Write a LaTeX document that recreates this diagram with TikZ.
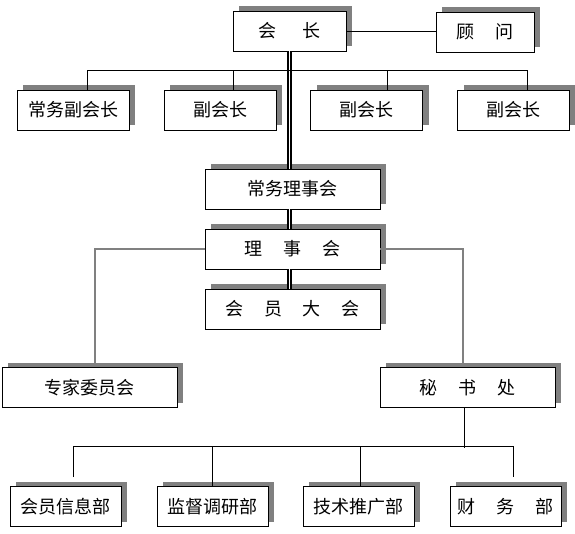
\documentclass[tikz,border=0pt]{standalone}
\usepackage{fontspec}
\newfontfamily\cjk{Noto Sans CJK SC}
\usetikzlibrary{shadows}

\newcommand{\gp}{\hspace{1.15em}}

\tikzstyle{box} = [draw,fill=white,line width=0.9pt,inner sep=0pt,minimum height=40pt,
  font=\cjk\fontsize{18}{21}\selectfont,
  drop shadow={shadow xshift=6pt,shadow yshift=5pt,fill=gray,opacity=1}]
\tikzstyle{line} = [line width=0.9pt]
\tikzstyle{gline} = [line width=1.2pt,gray]

\begin{document}
\begin{tikzpicture}[x=1pt,y=-1pt,node distance=60pt]
\useasboundingbox (0,0) rectangle (575,533);

\node (1) [box,minimum width=113pt] at (289.5,31) {会\hspace{1.4em}长};
\node (2) [box,minimum width=98pt] at (485,32) {顾\gp 问};
\node (3) [box,minimum width=112pt] at (73,110) {常务副会长};
\node (4) [box,minimum width=112pt] at (220,110) {副会长};
\node (5) [box,minimum width=112pt] at (366.5,110) {副会长};
\node (6) [box,minimum width=112pt] at (513.5,110) {副会长};
\node (7) [box,minimum width=175pt] at (292.5,189) {常务理事会};
\node (8) [box,minimum width=175pt,below of=7] {理\gp 事\gp 会};
\node (9) [box,minimum width=175pt,below of=8] {会\gp 员\gp 大\gp 会};
\node (10) [box,minimum width=175pt] at (89.5,387.5) {专家委员会};
\node (11) [box,minimum width=175pt] at (467.5,387.5) {秘\gp 书\gp 处};
\node (12) [box,minimum width=111pt] at (65.5,506.5) {会员信息部};
\node (13) [box,minimum width=111pt] at (212.5,506.5) {监督调研部};
\node (14) [box,minimum width=111pt] at (358.5,506.5) {技术推广部};
\node (15) [box,minimum width=111pt] at (505.5,506.5) {财\gp 务\gp 部};

\draw [line width=1.3pt,double,double distance=1.6pt] (1.south) -- (1.south |- 7.north);
\draw [line width=1.3pt,double,double distance=1.6pt] (1.south |- 7.south) -- (1.south |- 8.north);
\draw [line width=1.3pt,double,double distance=1.6pt] (1.south |- 8.south) -- (1.south |- 9.north);

\draw [line] (1.east) -- (1.east -| 2.west);
\draw [line] ([xshift=14pt]3.north) -- ++(0,-19) -| ([xshift=14pt]6.north);
\draw [line] ([xshift=13pt]4.north) -- ++(0,-19);
\draw [line] ([xshift=21pt]5.north) -- ++(0,-19);

\draw [gline] (8.west) -| ([xshift=5.5pt]10.north);
\draw [gline] (8.east) -| ([xshift=-4.5pt]11.north);

\draw [line] ([xshift=-3.5pt]11.south) -- ++(0,40);
\draw [line] ([xshift=7.5pt,yshift=9pt]12.north) -- ++(0,-31) -| ([xshift=7.5pt,yshift=9pt]15.north);
\draw [line] (13.north) -- ++(0,-40);
\draw [line] ([xshift=1.5pt]14.north) -- ++(0,-40);

\end{tikzpicture}
\end{document}
